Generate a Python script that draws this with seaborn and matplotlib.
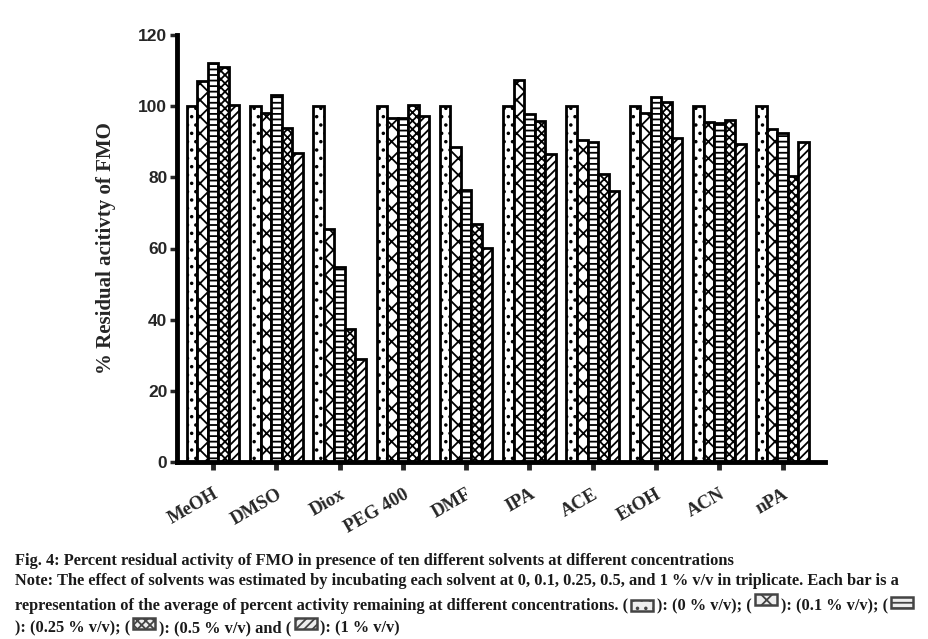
import matplotlib
matplotlib.use("Agg")
import matplotlib.pyplot as plt
from matplotlib.patches import Rectangle
from matplotlib.transforms import IdentityTransform
import seaborn as sns
import pandas as pd

# Data
solvents = ["MeOH", "DMSO", "Diox", "PEG 400", "DMF", "IPA", "ACE", "EtOH", "ACN", "nPA"]
conc_levels = ["0 % v/v", "0.1 % v/v", "0.25 % v/v", "0.5 % v/v", "1 % v/v"]
act_0 = [100, 100, 100, 100, 100, 100, 100, 100, 100, 100]
act_01 = [107, 98, 65.5, 96.6, 88.4, 107.4, 90.5, 98.0, 95.6, 93.7]
act_025 = [112, 103, 54.7, 96.6, 76.4, 97.8, 89.9, 102.5, 95.2, 92.4]
act_05 = [111, 94, 37.5, 100.3, 66.8, 95.8, 80.9, 101.2, 96.1, 80.4]
act_1 = [100.2, 86.8, 28.9, 97.3, 60.2, 86.6, 76.2, 91.0, 89.4, 89.9]

hatches = ["..", "xx", "---", "xxxx", "////"]

rows = []
for lev, vals in zip(conc_levels, [act_0, act_01, act_025, act_05, act_1]):
    for s, v in zip(solvents, vals):
        rows.append({"Solvent": s, "Conc": lev, "Activity": v})
df = pd.DataFrame(rows)

sns.set_style("white")
plt.rcParams["hatch.linewidth"] = 1.3

fig = plt.figure(figsize=(9.29, 6.39), dpi=100)
ax = fig.add_axes([177 / 929, 1 - 462 / 639, (825 - 177) / 929, 427 / 639])

sns.barplot(
    data=df, x="Solvent", y="Activity", hue="Conc", order=solvents,
    hue_order=conc_levels, palette=["white"] * 5, saturation=1,
    edgecolor="black", linewidth=2, width=0.83, legend=False, ax=ax,
)
for container, h in zip(ax.containers, hatches):
    for bar in container:
        bar.set_hatch(h)

ax.set_ylim(0, 120)
ax.set_xlim(-0.57, 9.67)
ax.set_yticks(range(0, 121, 20))
sns.despine(ax=ax)
for side in ["left", "bottom"]:
    ax.spines[side].set_linewidth(3.5)
    ax.spines[side].set_color("black")
ax.tick_params(axis="y", direction="out", length=5, width=2.5, left=True, pad=2)
ax.tick_params(axis="x", direction="out", length=6, width=3.5, bottom=True, pad=11)
for lbl in ax.get_yticklabels():
    lbl.set_fontfamily("Liberation Sans")
    lbl.set_fontweight("bold")
    lbl.set_fontsize(12.5)
ax.set_xticks(range(len(solvents)))
ax.set_xticklabels(solvents, rotation=30, ha="right", rotation_mode="anchor",
                   fontfamily="Liberation Serif", fontweight="bold", fontsize=13.5)
ax.set_xlabel("")
ax.set_ylabel("% Residual acitivty of FMO", fontfamily="Liberation Serif",
              fontweight="bold", fontsize=15)
ax.yaxis.set_label_coords(-0.094, 0.5)

# Caption with little hatched key boxes, laid out in pixels
renderer = fig.canvas.get_renderer()
cap_font = dict(fontfamily="Liberation Serif", fontweight="bold", fontsize=11.8,
                color="#1a1a1a", transform=IdentityTransform(), va="baseline")


def caption_line(parts, x0, y_base):
    y = 639 - y_base
    x = x0
    for p in parts:
        if isinstance(p, tuple):
            idx, dy = p
            r = Rectangle((x + 3, y - 1 + dy), 22, 11, facecolor="#eeeeee", edgecolor="#444444",
                          linewidth=1.8, hatch=hatches[idx], transform=IdentityTransform())
            fig.patches.append(r)
            x += 29
        else:
            t = fig.text(x, y, p, **cap_font)
            x += t.get_window_extent(renderer).width


caption_line(["Fig. 4: Percent residual activity of FMO in presence of ten different "
              "solvents at different concentrations"], 15, 565)
caption_line(["Note: The effect of solvents was estimated by incubating each solvent at "
              "0, 0.1, 0.25, 0.5, and 1 % v/v in triplicate. Each bar is a"], 15, 585)
caption_line(["representation of the average of percent activity remaining at different "
              "concentrations. (", (0, 0), "): (0 % v/v); (", (1, 6), "): (0.1 % v/v); (",
              (2, 3)], 15, 610)
caption_line(["): (0.25 % v/v); (", (3, 4), "): (0.5 % v/v) and (", (4, 4), "): (1 % v/v)"],
             15, 632)

fig.savefig("out.png", dpi=100)
